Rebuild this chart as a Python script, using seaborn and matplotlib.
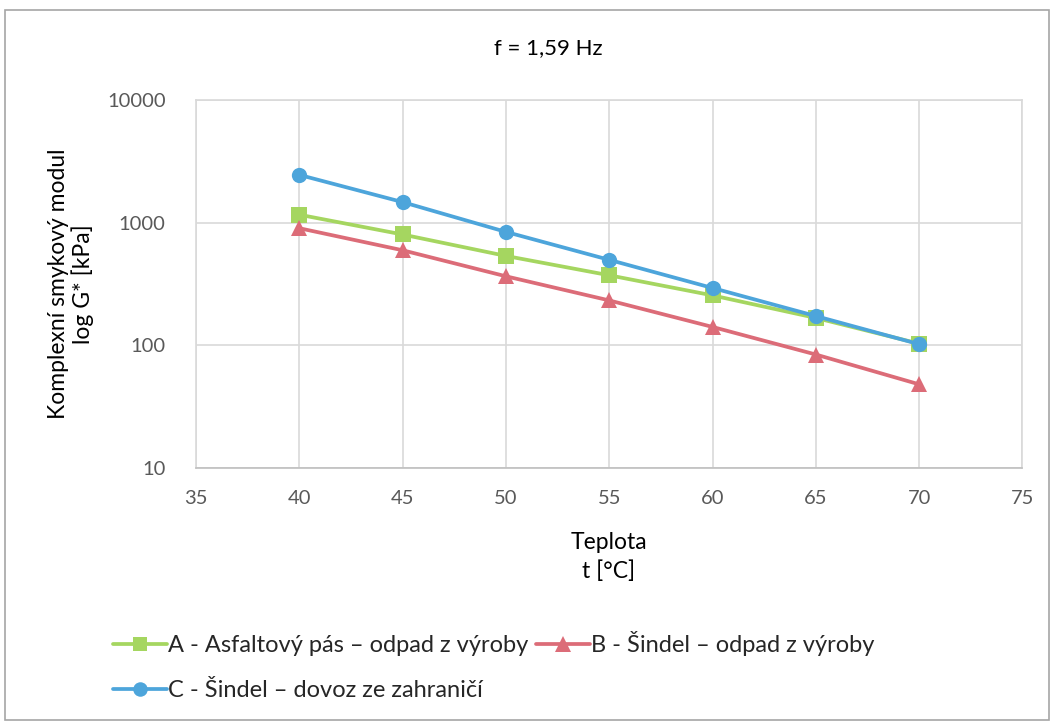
import matplotlib
matplotlib.use("Agg")
import matplotlib.pyplot as plt
import seaborn as sns
import pandas as pd
from matplotlib.patches import Rectangle

temps = [40, 45, 50, 55, 60, 65, 70]
series_a = [1160, 800, 535, 372, 255, 167, 103]
series_b = [900, 595, 365, 232, 141, 84, 48]
series_c = [2450, 1470, 840, 497, 293, 173, 102]
labels = ["A - Asfaltový pás – odpad z výroby",
          "B - Šindel – odpad z výroby",
          "C - Šindel – dovoz ze zahraničí"]
colors = ["#A5D660", "#DC6C78", "#4DA5DB"]
markers = ["s", "^", "o"]
msizes = [11, 12, 11]

sns.set_theme(style="white")
plt.rcParams['font.family'] = ['Lato', 'DejaVu Sans']

fig = plt.figure(figsize=(10.54, 7.22), dpi=100)
ax = fig.add_axes([0.186, 0.352, 0.784, 0.5095])

df = pd.DataFrame({"t": temps * 3,
                   "G": series_a + series_b + series_c,
                   "s": [labels[0]] * 7 + [labels[1]] * 7 + [labels[2]] * 7})

for lab, col, mk, ms in zip(labels, colors, markers, msizes):
    sub = df[df["s"] == lab]
    sns.lineplot(data=sub, x="t", y="G", ax=ax, color=col, marker=mk,
                 markersize=ms, markeredgewidth=0, linewidth=2.7, label=lab,
                 zorder=3)

ax.set_yscale("log")
ax.set_xlim(35, 75)
ax.set_ylim(10, 10000)
ax.set_xticks(range(35, 80, 5))
ax.set_yticks([10, 100, 1000, 10000])
ax.set_yticklabels(["10", "100", "1000", "10000"])
ax.minorticks_off()
ax.grid(True, color="#D9D9D9", linewidth=1.2)
ax.tick_params(axis="both", colors="#595959", labelsize=14.5, length=0)
ax.tick_params(axis="y", pad=22)
ax.tick_params(axis="x", pad=16)
for s in ax.spines.values():
    s.set_color("#D9D9D9")
    s.set_linewidth(1.2)
ax.spines["bottom"].set_color("#BFBFBF")
ax.set_xlabel("")
ax.set_ylabel("")

fig.text(609 / 1054, 1 - 557 / 722, "Teplota\nt [°C]", ha="center", va="center",
         fontsize=16.5, color="black", linespacing=1.45)
fig.text(71 / 1054, 1 - 284 / 722, "Komplexní smykový modul\nlog G* [kPa]",
         ha="center", va="center", rotation=90, fontsize=16.5, color="black",
         linespacing=1.1)
fig.text(548 / 1054, 1 - 48 / 722, "f = 1,59 Hz", ha="center", va="center",
         fontsize=16, color="black")

handles, labs = ax.get_legend_handles_labels()
if ax.legend_:
    ax.legend_.remove()
order = [0, 2, 1]
leg = fig.legend([handles[i] for i in order], [labs[i] for i in order],
                 loc="center left", bbox_to_anchor=(101 / 1054, 1 - 666 / 722),
                 ncol=2, frameon=False, fontsize=17, handlelength=2.3,
                 handletextpad=0.05, columnspacing=0.3, labelspacing=1.0,
                 markerscale=0.95, borderpad=0)

fig.patches.append(Rectangle((0.005, 0.003), 0.99, 0.983, transform=fig.transFigure,
                             fill=False, edgecolor="#A6A6A6", linewidth=1.2))

fig.savefig("out.png", dpi=100)
